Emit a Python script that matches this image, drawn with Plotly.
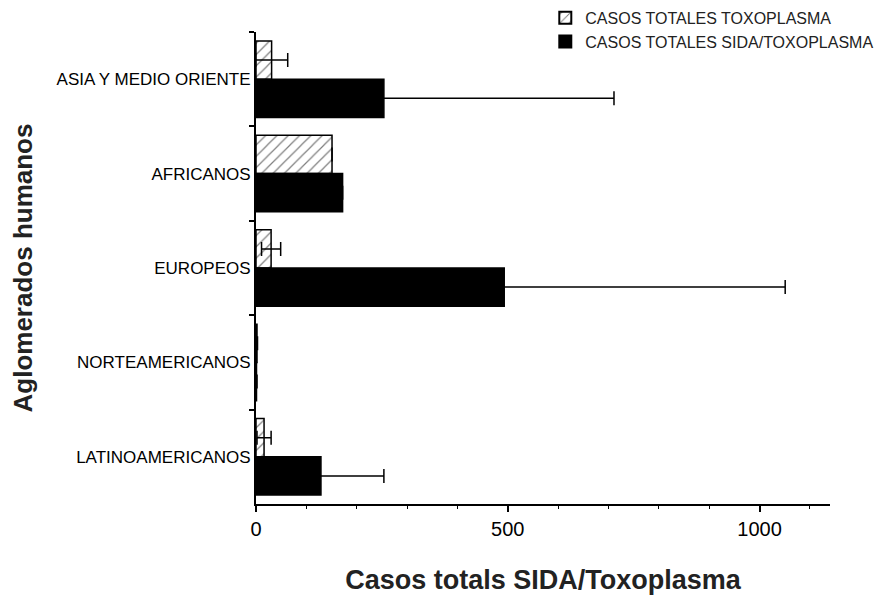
import plotly.graph_objects as go

categories = ["ASIA Y MEDIO ORIENTE", "AFRICANOS", "EUROPEOS", "NORTEAMERICANOS", "LATINOAMERICANOS"]
toxo_values = [31, 151, 30, 2, 16]
toxo_errors = [32, 0, 19, 1, 14]
sida_values = [254, 172, 493, 1, 129]
sida_errors = [457, 0, 558, 1, 125]
x_ticks = [0, 500, 1000]

fig = go.Figure()
fig.add_trace(go.Bar(
    y=categories, x=toxo_values, orientation="h",
    name="CASOS TOTALES TOXOPLASMA",
    marker=dict(color="white", line=dict(color="black", width=1.5),
                pattern=dict(shape="/", fgcolor="black", bgcolor="white", size=8, solidity=0.15)),
    error_x=dict(type="data", array=toxo_errors, symmetric=True, color="black", thickness=1.5, width=7),
))
fig.add_trace(go.Bar(
    y=categories, x=sida_values, orientation="h",
    name="CASOS TOTALES SIDA/TOXOPLASMA",
    marker=dict(color="black", line=dict(color="black", width=1.5)),
    error_x=dict(type="data", array=sida_errors, symmetric=True, color="black", thickness=1.5, width=7),
))

font_family = "Liberation Sans, Arial, sans-serif"
fig.update_layout(
    width=876, height=588,
    margin=dict(l=248, r=54, t=24, b=92, autoexpand=False),
    paper_bgcolor="white", plot_bgcolor="white",
    barmode="group", bargap=0.19, bargroupgap=0.0,
    font=dict(family=font_family, color="black"),
    showlegend=True,
    legend=dict(x=0.504, y=1.066, xanchor="left", yanchor="top",
                font=dict(size=16, color="#222"), bgcolor="rgba(0,0,0,0)",
                traceorder="normal", tracegroupgap=0, itemsizing="constant"),
    xaxis=dict(range=[0, 1140], tickvals=x_ticks, ticktext=[str(v) for v in x_ticks],
               automargin=False,
               showline=True, linecolor="black", linewidth=2, ticks="outside", ticklen=6,
               tickwidth=1.5, tickcolor="black", tickfont=dict(size=20, color="black"),
               showgrid=False, zeroline=False,
               minor=dict(dtick=100, ticks="outside", ticklen=3, tickcolor="black", tickwidth=1, showgrid=False),
               title=dict(text="<b>Casos totals SIDA/Toxoplasma</b>", font=dict(size=27, color="#222"), standoff=31)),
    yaxis=dict(categoryorder="array", categoryarray=categories, autorange="reversed",
               automargin=False,
               showline=True, linecolor="black", linewidth=2, ticks="outside", ticklen=5,
               tickwidth=1.5, tickcolor="black", tickson="boundaries",
               tickfont=dict(size=17, color="black"), showgrid=False, zeroline=False,
               title=dict(text="<b>Aglomerados humanos</b>", font=dict(size=26, color="#222"), standoff=27)),
)
fig.write_html("out.html")
